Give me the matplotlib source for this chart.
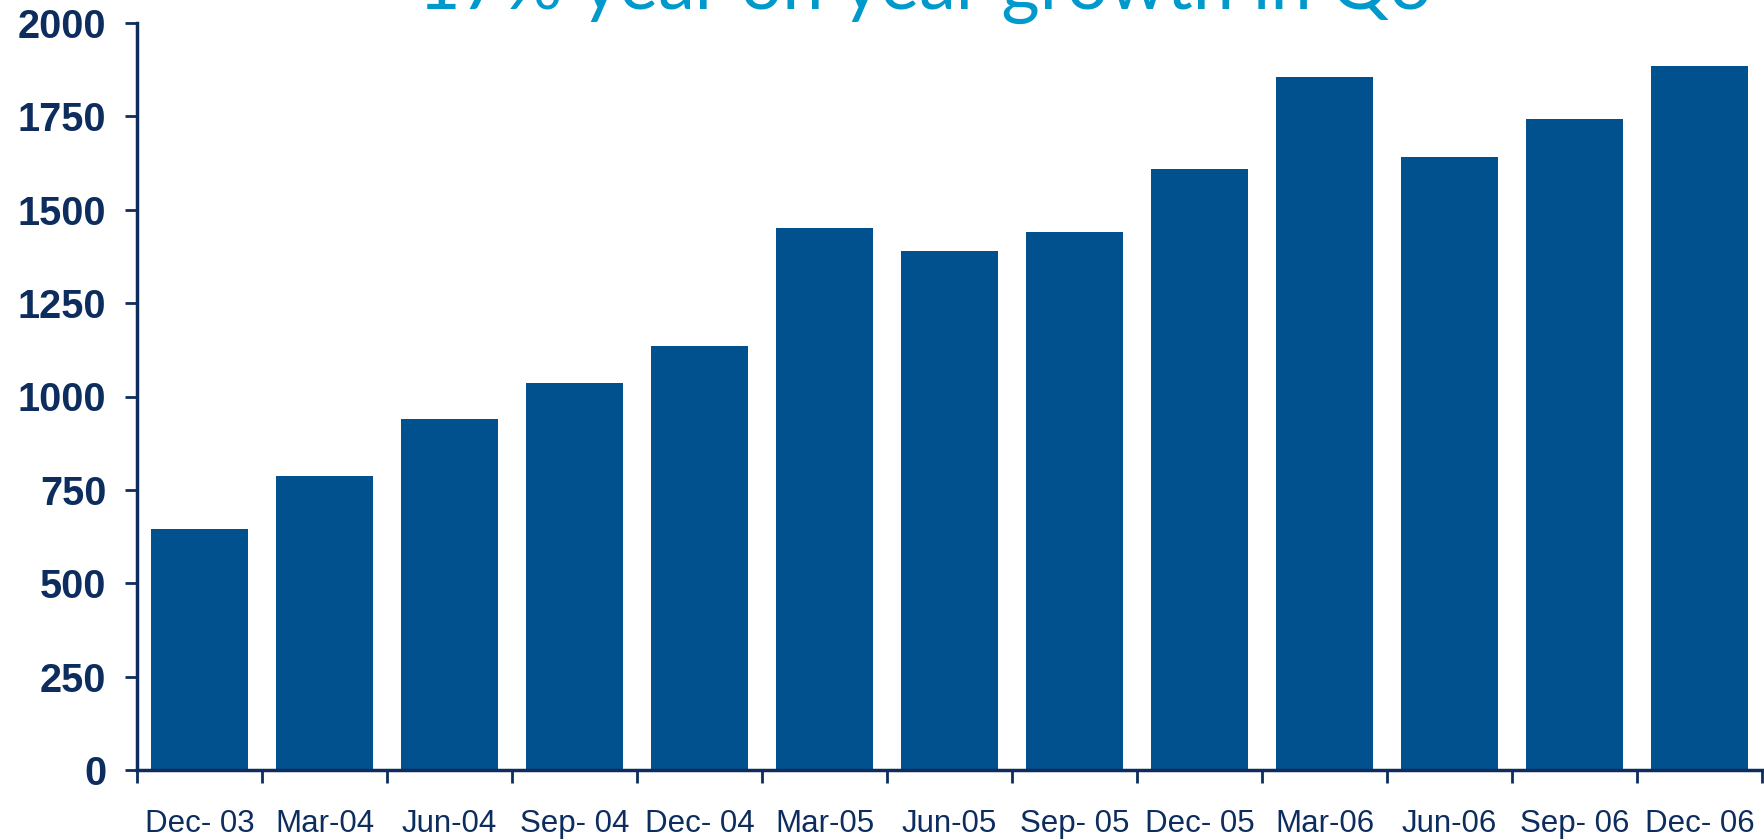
import matplotlib
matplotlib.use("Agg")
import matplotlib.pyplot as plt
import numpy as np

# Quarterly values
quarters = ["Dec- 03", "Mar-04", "Jun-04", "Sep- 04", "Dec- 04", "Mar-05", "Jun-05",
            "Sep- 05", "Dec- 05", "Mar-06", "Jun-06", "Sep- 06", "Dec- 06"]
values = [646, 788, 940, 1036, 1136, 1450, 1390, 1441, 1610, 1855, 1640, 1742, 1885]
yticks = [0, 250, 500, 750, 1000, 1250, 1500, 1750, 2000]

navy = "#0d2d5e"
bar_color = "#02518f"

fig = plt.figure(figsize=(17.65, 8.39), dpi=100)
ax = fig.add_axes([137 / 1765, 1 - 770 / 839, 1 - 137 / 1765 - 3 / 1765, (770 - 23) / 839])

x = np.arange(len(quarters))
ax.bar(x, values, width=0.78, color=bar_color, zorder=2)

ax.set_xlim(-0.5, len(quarters) - 0.5)
ax.set_ylim(0, 2000)

# spines
for side in ["top", "right"]:
    ax.spines[side].set_visible(False)
for side in ["left", "bottom"]:
    ax.spines[side].set_color(navy)
    ax.spines[side].set_linewidth(2.5)
    ax.spines[side].set_zorder(3)

# y ticks
ax.set_yticks(yticks)
ax.set_yticklabels([str(v) for v in yticks], fontfamily="Liberation Sans",
                   fontweight="bold", fontsize=28.5, color=navy)
ax.tick_params(axis="y", direction="out", length=9, width=2, color=navy, pad=13)

# x ticks: marks between bars, labels centred under bars
ax.set_xticks(x)
ax.set_xticklabels(quarters, fontfamily="Liberation Sans", fontsize=22.5, color=navy)
ax.tick_params(axis="x", which="major", length=0, pad=28)
ax.set_xticks(np.arange(-0.5, len(quarters)), minor=True)
ax.tick_params(axis="x", which="minor", direction="out", length=9, width=2, color=navy)

fig.text(925 / 1765, 1 - 9 / 839, "17% year on year growth in Q3", ha="center",
         va="baseline", fontsize=53, color="#0099cc", fontfamily="Lato")

fig.savefig("out.png", dpi=100)
